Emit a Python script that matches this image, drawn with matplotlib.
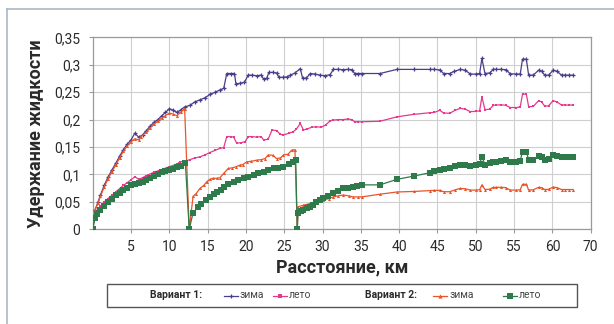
import matplotlib
matplotlib.use("Agg")
import matplotlib.pyplot as plt
from matplotlib.lines import Line2D
from matplotlib.patches import Rectangle
from matplotlib.ticker import FixedLocator, FixedFormatter

# Distance along the pipeline, km, and liquid holdup for each case
v1_winter_km = [0, 0.3, 0.7, 1.0, 1.5, 2.0, 2.5, 3.0, 3.5, 4.0, 4.5, 5.0, 5.5, 6.0, 6.5, 7.0,
                7.5, 8.0, 8.5, 9.0, 9.5, 10.0, 10.5, 11.0, 11.5, 12.0, 12.7, 13.3, 14.0, 14.7,
                15.3, 16.0, 16.6, 17.1, 17.5, 18.0, 18.5, 18.7, 19.2, 19.8, 20.3, 20.8, 21.4,
                22.0, 22.3, 22.7, 23.0, 23.5, 24.0, 24.3, 24.9, 25.4, 25.8, 26.4, 27.1, 27.4,
                27.9, 28.4, 29.0, 29.7, 30.3, 31.0, 31.4, 32.0, 32.7, 33.3, 33.8, 34.2, 34.6,
                35.1, 37.5, 39.7, 41.9, 44.0, 44.6, 45.3, 45.8, 46.6, 47.2, 48.0, 48.6, 49.3,
                50.0, 50.5, 50.8, 51.2, 51.8, 52.3, 52.7, 53.3, 53.9, 54.5, 55.3, 55.8, 56.1,
                56.6, 56.9, 57.5, 58.2, 58.6, 59.0, 59.5, 60.1, 60.6, 61.2, 61.7, 62.2, 62.7]
v1_winter = [0.0, 0.035, 0.05, 0.062, 0.08, 0.095, 0.108, 0.12, 0.133, 0.145, 0.155, 0.163,
             0.175, 0.168, 0.172, 0.18, 0.188, 0.195, 0.2, 0.207, 0.213, 0.22, 0.217, 0.213,
             0.218, 0.223, 0.226, 0.232, 0.236, 0.24, 0.246, 0.25, 0.254, 0.257, 0.284, 0.284,
             0.284, 0.265, 0.266, 0.268, 0.281, 0.281, 0.28, 0.281, 0.274, 0.275, 0.286, 0.286,
             0.285, 0.277, 0.277, 0.278, 0.281, 0.285, 0.293, 0.275, 0.276, 0.284, 0.283, 0.281,
             0.28, 0.282, 0.2915, 0.2915, 0.291, 0.2915, 0.291, 0.284, 0.284, 0.284, 0.284,
             0.2915, 0.2915, 0.2915, 0.2915, 0.2905, 0.284, 0.284, 0.288, 0.2915, 0.29, 0.283,
             0.283, 0.284, 0.3115, 0.284, 0.285, 0.2915, 0.2915, 0.2915, 0.291, 0.2835, 0.283,
             0.283, 0.31, 0.31, 0.281, 0.281, 0.29, 0.288, 0.281, 0.281, 0.29, 0.288, 0.281,
             0.281, 0.281, 0.281]

v1_summer_km = [0, 0.3, 0.7, 1.0, 1.5, 2.0, 2.5, 3.0, 3.5, 4.0, 4.5, 5.0, 5.5, 6.0, 6.5, 7.0,
                8.0, 9.0, 10.0, 11.0, 11.4, 12.0, 12.7, 13.3, 14.0, 14.7, 15.3, 16.0, 16.6,
                17.1, 17.5, 18.0, 18.4, 18.8, 19.4, 19.9, 20.3, 20.8, 21.4, 22.0, 22.3, 22.9,
                23.4, 24.0, 24.5, 24.9, 25.6, 26.2, 26.6, 27.1, 27.5, 28.0, 28.6, 29.2, 29.8,
                30.4, 31.0, 31.4, 32.0, 32.7, 33.3, 33.8, 34.2, 34.6, 35.1, 37.5, 39.7, 41.9,
                44.0, 44.6, 45.3, 45.8, 46.6, 47.3, 48.0, 48.6, 49.3, 50.0, 50.5, 50.8, 51.2,
                51.8, 52.3, 52.7, 53.3, 53.9, 54.5, 55.3, 55.8, 56.1, 56.6, 56.9, 57.5, 58.2,
                58.6, 59.0, 59.5, 60.1, 60.6, 61.2, 61.7, 62.2, 62.7]
v1_summer = [0.0, 0.025, 0.035, 0.042, 0.05, 0.056, 0.062, 0.068, 0.074, 0.08, 0.085, 0.09,
             0.096, 0.091, 0.094, 0.098, 0.104, 0.109, 0.114, 0.119, 0.123, 0.124, 0.127, 0.13,
             0.132, 0.136, 0.14, 0.144, 0.1475, 0.149, 0.169, 0.169, 0.168, 0.157, 0.158, 0.16,
             0.169, 0.169, 0.168, 0.169, 0.163, 0.164, 0.181, 0.18, 0.173, 0.172, 0.175, 0.178,
             0.183, 0.193, 0.181, 0.183, 0.186, 0.187, 0.186, 0.19, 0.198, 0.199, 0.2, 0.2,
             0.201, 0.2, 0.196, 0.196, 0.196, 0.197, 0.205, 0.2095, 0.2125, 0.213, 0.217, 0.212,
             0.2115, 0.217, 0.2205, 0.219, 0.2145, 0.215, 0.216, 0.2415, 0.218, 0.219, 0.226,
             0.2265, 0.227, 0.226, 0.222, 0.222, 0.223, 0.2465, 0.2465, 0.2235, 0.224, 0.2345,
             0.232, 0.2245, 0.225, 0.2345, 0.232, 0.2265, 0.2265, 0.2265, 0.2265]

v2_winter_km = [0, 0.3, 0.7, 1.0, 1.5, 2.0, 2.5, 3.0, 3.5, 4.0, 4.5, 5.0, 5.5, 6.0, 6.3, 7.0,
                7.5, 8.0, 8.5, 9.0, 9.5, 10.0, 10.5, 11.0, 11.5, 12.0, 12.6, 13.1, 13.5, 14.0,
                14.5, 14.9, 15.3, 15.7, 16.2, 16.6, 17.1, 17.7, 18.2, 18.7, 19.2, 19.6, 20.1,
                20.7, 21.4, 22.0, 22.5, 22.9, 23.5, 24.0, 24.5, 24.9, 25.5, 26.0, 26.4, 26.7,
                26.8, 27.5, 28.4, 29.2, 30.1, 30.8, 31.4, 32.0, 32.7, 33.4, 34.0, 34.6, 35.1,
                37.5, 39.7, 41.9, 44.0, 44.6, 45.3, 45.8, 46.6, 47.3, 48.0, 48.6, 49.3, 50.0,
                50.5, 50.8, 51.2, 51.8, 52.3, 52.7, 53.3, 53.9, 54.5, 55.3, 55.8, 56.1, 56.6,
                56.9, 57.5, 58.2, 58.6, 59.0, 59.5, 60.1, 60.6, 61.2, 61.7, 62.2, 62.7]
v2_winter = [0.0, 0.035, 0.048, 0.06, 0.077, 0.092, 0.105, 0.117, 0.13, 0.142, 0.152, 0.16,
             0.165, 0.163, 0.169, 0.177, 0.185, 0.192, 0.197, 0.203, 0.207, 0.212, 0.21, 0.207,
             0.214, 0.22, 0.0, 0.06, 0.065, 0.0745, 0.08, 0.087, 0.091, 0.093, 0.093, 0.094,
             0.102, 0.111, 0.112, 0.114, 0.117, 0.118, 0.123, 0.124, 0.126, 0.127, 0.129,
             0.1355, 0.135, 0.129, 0.13, 0.1355, 0.137, 0.1445, 0.145, 0.0, 0.041, 0.044,
             0.047, 0.05, 0.053, 0.056, 0.059, 0.061, 0.0625, 0.061, 0.059, 0.059, 0.059,
             0.064, 0.068, 0.069, 0.0705, 0.071, 0.071, 0.0685, 0.0685, 0.072, 0.0745, 0.074,
             0.0715, 0.0715, 0.072, 0.081, 0.0725, 0.073, 0.0765, 0.0765, 0.0765, 0.076,
             0.0715, 0.0715, 0.072, 0.082, 0.082, 0.0715, 0.072, 0.0765, 0.076, 0.0725, 0.073,
             0.077, 0.076, 0.0725, 0.0725, 0.0725, 0.0725]

v2_summer_km = [0, 0.3, 0.6, 1.0, 1.5, 2.0, 2.5, 3.0, 3.5, 4.0, 4.5, 5.0, 5.5, 6.0, 6.5, 7.0,
                7.5, 8.0, 8.5, 9.0, 9.5, 10.0, 10.5, 11.0, 11.5, 12.1, 12.6, 13.1, 13.7, 14.2,
                14.8, 15.3, 15.8, 16.2, 16.7, 17.1, 17.7, 18.4, 19.0, 19.7, 20.3, 21.0, 21.6,
                22.3, 22.9, 23.6, 24.2, 24.9, 25.6, 26.2, 26.5, 26.7, 26.8, 27.2, 27.5, 28.0,
                28.4, 28.8, 29.2, 29.7, 30.1, 30.7, 31.4, 32.0, 32.7, 33.3, 34.0, 34.5, 35.1,
                37.5, 39.7, 41.9, 44.0, 44.6, 45.3, 45.8, 46.6, 47.3, 48.0, 48.6, 49.3, 50.0,
                50.5, 50.8, 51.2, 51.8, 52.3, 52.7, 53.3, 53.9, 54.5, 55.3, 55.8, 56.1, 56.6,
                56.9, 57.5, 58.2, 58.6, 59.0, 59.5, 60.1, 60.6, 61.2, 61.7, 62.2, 62.7]
v2_summer = [0.0, 0.02, 0.028, 0.035, 0.043, 0.05, 0.056, 0.062, 0.067, 0.072, 0.076, 0.08,
             0.083, 0.085, 0.087, 0.09, 0.094, 0.097, 0.1, 0.104, 0.106, 0.108, 0.11, 0.113,
             0.116, 0.12, 0.0, 0.03, 0.04, 0.047, 0.053, 0.0595, 0.064, 0.0685, 0.072, 0.0775,
             0.082, 0.087, 0.09, 0.093, 0.096, 0.099, 0.102, 0.105, 0.108, 0.111, 0.112, 0.114,
             0.119, 0.123, 0.126, 0.0, 0.03, 0.033, 0.035, 0.038, 0.041, 0.045, 0.05, 0.053,
             0.0565, 0.061, 0.0655, 0.07, 0.0745, 0.076, 0.0775, 0.079, 0.081, 0.081, 0.091,
             0.097, 0.103, 0.106, 0.109, 0.11, 0.112, 0.115, 0.117, 0.117, 0.116, 0.118, 0.119,
             0.1325, 0.118, 0.12, 0.123, 0.123, 0.125, 0.126, 0.123, 0.123, 0.125, 0.1415,
             0.1415, 0.1265, 0.127, 0.1335, 0.132, 0.1265, 0.128, 0.1355, 0.134, 0.1315, 0.131,
             0.1325, 0.1325]

x_ticks = [5, 10, 15, 20, 25, 30, 35, 40, 45, 50, 55, 60, 65]
x_tick_labels = ["5", "10", "15", "20", "25", "30", "35", "40", "45", "50", "55", "60", "70"]
y_ticks = [0, 0.05, 0.1, 0.15, 0.2, 0.25, 0.3, 0.35]
y_tick_labels = ["0", "0,05", "0,1", "0,15", "0,2", "0,25", "0,3", "0,35"]

C_V1W = "#4a3d8c"
C_V1S = "#e8388e"
C_V2W = "#ea5428"
C_V2S = "#2f7a4a"
TXT = "#2a2a2a"

plt.rcParams["font.family"] = ["Roboto", "DejaVu Sans"]

fig = plt.figure(figsize=(6.14, 3.24), dpi=100)
W, H = 614.0, 324.0

# outer frame (top and left edges)
fig.add_artist(Line2D([7 / W, 1.0], [1 - 9 / H, 1 - 9 / H], color="#a9b7c6", lw=1.2))
fig.add_artist(Line2D([7 / W, 7 / W], [0, 1 - 9 / H], color="#a9b7c6", lw=1.2))

ax = fig.add_axes([92.7 / W, 1 - 229.3 / H, (590.7 - 92.7) / W, (229.3 - 37.3) / H])
ax.set_xlim(0, 65)
ax.set_ylim(0, 0.35)

ax.plot(v1_winter_km, v1_winter, color=C_V1W, lw=0.9, marker="+", ms=3, mew=0.9, zorder=3)
ax.plot(v1_summer_km, v1_summer, color=C_V1S, lw=0.9, marker="s", ms=2, mew=0, zorder=3)
ax.plot(v2_winter_km, v2_winter, color=C_V2W, lw=0.9, marker="^", ms=2.2, mew=0, zorder=4)
ax.plot(v2_summer_km, v2_summer, color=C_V2S, lw=0.9, marker="s", ms=4, mew=0, zorder=5)

ax.xaxis.set_major_locator(FixedLocator(x_ticks))
ax.xaxis.set_major_formatter(FixedFormatter(x_tick_labels))
ax.yaxis.set_major_locator(FixedLocator(y_ticks))
ax.yaxis.set_major_formatter(FixedFormatter(y_tick_labels))
ax.grid(True, color="#cfcfcf", lw=0.8)
ax.set_axisbelow(True)
for s in ax.spines.values():
    s.set_color("#9a9a9a")
    s.set_linewidth(0.9)
ax.tick_params(axis="both", length=3, width=0.8, color="#9a9a9a", labelsize=10,
               labelcolor=TXT)
ax.tick_params(axis="y", pad=6)
ax.tick_params(axis="x", pad=5)

ax.set_xlabel("Расстояние, км", fontsize=13, fontweight="bold", color=TXT)
ax.xaxis.set_label_coords(0.5, (229.3 - 267.5) / 192.0)
ax.xaxis.label.set_va("center")
ax.set_ylabel("Удержание жидкости", fontsize=13, fontweight="bold", color=TXT)
ax.yaxis.set_label_coords((36 - 92.7) / 498.0, 0.5)
ax.yaxis.label.set_va("center")

# legend box
fig.add_artist(Rectangle((107 / W, 1 - 306.7 / H), (576.7 - 107) / W, (306.7 - 284) / H,
                         transform=fig.transFigure, facecolor="white", edgecolor="#555555",
                         lw=1.0))
ly = 1 - 295.5 / H
fig.text(150 / W, ly, "Вариант 1:", fontsize=7.5, fontweight="bold", va="center", ha="left",
         color=TXT)
fig.text(365 / W, ly, "Вариант 2:", fontsize=7.5, fontweight="bold", va="center", ha="left",
         color=TXT)
entries = [(224, C_V1W, "+", 3.5, "зима"), (273, C_V1S, "s", 2.5, "лето"),
           (433, C_V2W, "^", 3, "зима"), (503, C_V2S, "s", 4, "лето")]
for x0, c, m, ms, lab in entries:
    fig.add_artist(Line2D([x0 / W, (x0 + 14) / W], [ly, ly], color=c, lw=0.9))
    fig.add_artist(Line2D([(x0 + 7) / W], [ly], color=c, marker=m, ms=ms,
                          mew=0.9 if m == "+" else 0))
    fig.text((x0 + 16) / W, ly, lab, fontsize=7.5, va="center", ha="left", color="#444444")

fig.savefig("out.png", dpi=100, facecolor="white")
